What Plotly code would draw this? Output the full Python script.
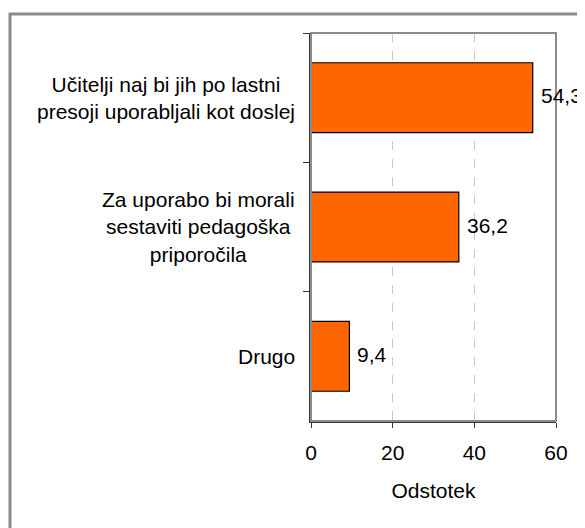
import plotly.graph_objects as go

categories = [
    "Učitelji naj bi jih po lastni<br>presoji uporabljali kot doslej",
    "Za uporabo bi morali<br>sestaviti pedagoška<br>priporočila",
    "Drugo",
]
values = [54.3, 36.2, 9.4]
x_ticks = [0, 20, 40, 60]
x_title = "Odstotek"

FONT = "Arial, 'Liberation Sans', sans-serif"
FS = 21

fig = go.Figure()
fig.add_trace(go.Bar(
    y=categories, x=values, orientation="h", width=0.54,
    marker=dict(color="#FF6600", line=dict(color="#000000", width=1.2)),
    hoverinfo="skip", cliponaxis=False,
))

annotations = []
for c, v in zip(categories, values):
    annotations.append(dict(
        x=0, y=c, xref="x", yref="y", text=c, showarrow=False,
        xanchor="right", yanchor="middle", align="center", xshift=-14,
        font=dict(family=FONT, size=FS, color="#000"),
    ))
    annotations.append(dict(
        x=v, y=c, xref="x", yref="y", text=f"{v:.1f}".replace(".", ","),
        showarrow=False, xanchor="left", yanchor="middle", xshift=6, yshift=2,
        font=dict(family=FONT, size=FS, color="#000"),
    ))

fig.update_layout(
    width=585, height=528,
    margin=dict(l=303, r=37, t=25, b=115, autoexpand=False),
    paper_bgcolor="white", plot_bgcolor="white",
    showlegend=False,
    font=dict(family=FONT, size=FS, color="#000"),
    annotations=annotations,
    shapes=[
        dict(type="rect", xref="paper", yref="paper", x0=0, x1=1, y0=0, y1=1.0,
             line=dict(color="#8c8c8c", width=2), fillcolor="rgba(0,0,0,0)", layer="above"),
        dict(type="rect", xref="paper", yref="paper", x0=-1.2286, x1=1.3, y0=-0.35, y1=1.049,
             line=dict(color="#8c8c8c", width=3), fillcolor="rgba(0,0,0,0)", layer="below"),
    ],
    xaxis=dict(
        range=[0, 60], tickvals=x_ticks, ticktext=[str(t) for t in x_ticks],
        ticks="outside", ticklen=5, tickcolor="#333", tickwidth=1,
        showline=True, linecolor="#333", linewidth=1.5,
        showgrid=True, gridcolor="#c8c8c8", griddash="dash", gridwidth=1,
        zeroline=False, fixedrange=True, ticklabelstandoff=7,
        tickfont=dict(family=FONT, size=FS, color="#000"),
        title=dict(text=x_title, font=dict(family=FONT, size=FS, color="#000"), standoff=20),
    ),
    yaxis=dict(
        type="category", categoryorder="array", categoryarray=categories,
        range=[2.5, -0.5], showticklabels=False,
        ticks="outside", tickson="boundaries", ticklen=6, tickcolor="#333", tickwidth=1,
        showline=True, linecolor="#333", linewidth=1.5,
        showgrid=False, zeroline=False, fixedrange=True,
    ),
)

fig.write_html("out.html")
